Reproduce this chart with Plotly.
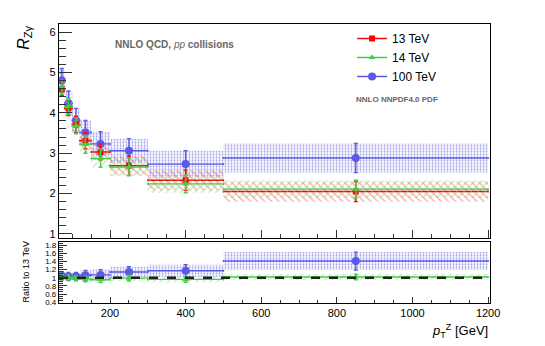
import plotly.graph_objects as go

# bins in pT^Z [GeV]
edges = [65, 80, 100, 120, 150, 200, 300, 500, 1200]

# R_Zgamma values and uncertainties
r13 = [4.58, 4.11, 3.71, 3.31, 3.03, 2.69, 2.33, 2.05]
e13 = [0.15, 0.18, 0.2, 0.2, 0.2, 0.24, 0.25, 0.25]
r14 = [4.63, 4.16, 3.68, 3.22, 2.87, 2.66, 2.24, 2.11]
e14 = [0.18, 0.2, 0.2, 0.22, 0.22, 0.22, 0.22, 0.22]
r100 = [4.80, 4.24, 3.81, 3.51, 3.23, 3.06, 2.73, 2.88]
e100 = [0.3, 0.3, 0.3, 0.3, 0.3, 0.3, 0.33, 0.36]

# ratios to 13 TeV
q14 = [1.01, 1.01, 0.99, 0.97, 0.95, 0.99, 0.96, 1.02]
qe14 = [0.06, 0.06, 0.06, 0.07, 0.07, 0.07, 0.07, 0.07]
q100 = [1.05, 1.03, 1.03, 1.06, 1.07, 1.14, 1.17, 1.41]
qe100 = [0.1, 0.1, 0.1, 0.12, 0.13, 0.13, 0.15, 0.22]

RED = "#ff0000"
GREEN = "#44cc44"
BLUE = "#5a5ae8"
FONT = "Liberation Sans"

centers = [(a + b) / 2 for a, b in zip(edges[:-1], edges[1:])]
halfw = [(b - a) / 2 for a, b in zip(edges[:-1], edges[1:])]


def band(vals, errs):
    xs, ys = [], []
    for lo, hi, v, e in zip(edges[:-1], edges[1:], vals, errs):
        xs += [lo, hi, hi, lo, lo, None]
        ys += [v - e, v - e, v + e, v + e, v - e, None]
    return xs, ys


fig = go.Figure()


def add_series(vals, errs, color, symbol, size, pattern, yref):
    xs, ys = band(vals, errs)
    xr = "x" if yref == "y" else "x2"
    for p in pattern:
        fig.add_trace(go.Scatter(x=xs, y=ys, mode="none", fill="toself",
                                 fillcolor="rgba(0,0,0,0)",
                                 fillpattern=p, showlegend=False,
                                 xaxis=xr, yaxis=yref, hoverinfo="skip"))
    fig.add_trace(go.Scatter(
        x=centers, y=vals, mode="markers",
        marker=dict(color=color, symbol=symbol, size=size),
        error_x=dict(type="data", array=halfw, color=color, thickness=1.4, width=1),
        error_y=dict(type="data", array=errs, color=color, thickness=1.4, width=2),
        showlegend=False, xaxis=xr, yaxis=yref))


blue_pat = [dict(shape="|", fgcolor="#b4b4f0", size=3, solidity=0.5),
            dict(shape=".", fgcolor="#8080e0", size=3, solidity=0.3)]
red_pat = [dict(shape="\\", fgcolor="#ff5050", size=5, solidity=0.25)]
green_pat = [dict(shape="/", fgcolor="#70d870", size=5, solidity=0.25)]

# main panel
add_series(r100, e100, BLUE, "circle", 8, blue_pat, "y")
add_series(r13, e13, RED, "square", 6, red_pat, "y")
add_series(r14, e14, GREEN, "triangle-up", 6, green_pat, "y")

# ratio panel
add_series(q100, qe100, BLUE, "circle", 8, blue_pat, "y2")
add_series(q14, qe14, GREEN, "triangle-up", 6, green_pat, "y2")
fig.add_trace(go.Scatter(x=[edges[0], edges[-1]], y=[1, 1], mode="lines",
                         line=dict(color="#222222", width=2.5, dash="dash"),
                         showlegend=False, xaxis="x2", yaxis="y2"))

# legend entries
for nm, c, s, sz in [("13 TeV", RED, "square", 6), ("14 TeV", GREEN, "triangle-up", 6),
                     ("100 TeV", BLUE, "circle", 8)]:
    fig.add_trace(go.Scatter(x=[None], y=[None], mode="lines+markers", name=nm,
                             line=dict(color=c, width=1.5),
                             marker=dict(color=c, symbol=s, size=sz),
                             xaxis="x", yaxis="y"))

axcommon = dict(showgrid=False, zeroline=False, showline=True, linecolor="black",
                linewidth=1.3, mirror=True, ticks="inside", tickcolor="#333",
                tickfont=dict(family=FONT, size=11, color="black"))

# page body has an 8px margin, so the figure is shrunk by that much
fig.update_layout(
    width=537, height=338,
    margin=dict(l=51, r=55, t=16, b=43),
    paper_bgcolor="white", plot_bgcolor="white",
    font=dict(family=FONT, color="black"),
    showlegend=True,
    legend=dict(x=0.68, y=1.0, xanchor="left", yanchor="top",
                bgcolor="rgba(0,0,0,0)", font=dict(size=12, family=FONT),
                tracegroupgap=0, itemwidth=30),
    xaxis=dict(axcommon, range=[65, 1205], anchor="y", showticklabels=False,
               tick0=0, dtick=200, ticklen=8,
               minor=dict(ticks="inside", dtick=50, ticklen=4, tickcolor="#333")),
    yaxis=dict(axcommon, domain=[0.233, 1], range=[0.9, 6.2], dtick=1, ticklen=13,
               minor=dict(ticks="inside", dtick=0.2, ticklen=7, tickcolor="#333")),
    xaxis2=dict(axcommon, range=[65, 1205], anchor="y2", tick0=0, dtick=200, ticklen=6,
                minor=dict(ticks="inside", dtick=50, ticklen=3, tickcolor="#333")),
    yaxis2=dict(axcommon, domain=[0, 0.219], range=[0.38, 1.88], dtick=0.2, ticklen=8,
                tickfont=dict(family=FONT, size=8, color="black"),
                minor=dict(ticks="inside", dtick=0.05, ticklen=4, tickcolor="#333")),
)

fig.add_annotation(text="<i>R</i><sub>Zγ</sub>", xref="paper", yref="paper",
                   x=-0.055, y=1.0, xanchor="right", yanchor="top", textangle=-90,
                   showarrow=False, font=dict(size=16, family=FONT))
fig.add_annotation(text="Ratio to 13 TeV", xref="paper", yref="paper",
                   x=-0.06, y=0.11, xanchor="right", yanchor="middle", textangle=-90,
                   showarrow=False, font=dict(size=9, family=FONT))
fig.add_annotation(text="<i>p</i><sub>T</sub><sup>Z</sup> [GeV]", xref="paper",
                   yref="paper", x=1.0, y=-0.06, xanchor="right", yanchor="top",
                   showarrow=False, font=dict(size=13, family=FONT))
fig.add_annotation(text="<b>NNLO QCD,</b> <i>pp</i> <b>collisions</b>", xref="paper",
                   yref="paper", x=0.125, y=0.925, xanchor="left", yanchor="middle",
                   showarrow=False, font=dict(size=10, family=FONT, color="#666666"))
fig.add_annotation(text="<b>NNLO NNPDF4.0 PDF</b>", xref="paper", yref="paper",
                   x=0.685, y=0.73, xanchor="left", yanchor="middle",
                   showarrow=False, font=dict(size=8, family=FONT, color="#666666"))

fig.write_html("out.html")
